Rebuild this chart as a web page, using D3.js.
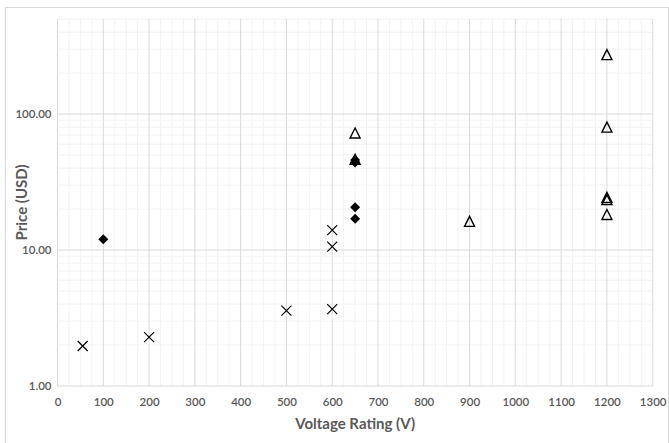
<!DOCTYPE html>
<html><head><meta charset="utf-8">
<script src="https://cdn.jsdelivr.net/npm/d3@7"></script>
<style>body{margin:0;background:#fff}svg{display:block}text{font-family:Lato,"Open Sans",sans-serif}</style>
</head><body><svg id="c" width="669" height="443"></svg>
<script>
const xTicks = [0,100,200,300,400,500,600,700,800,900,1000,1100,1200,1300];
const yTicks = [1,10,100];
const crossX = [55,200,500,600,600,600];
const crossY = [1.97,2.29,3.58,3.68,10.6,14.0];
const diamondX = [100,650,650,650,650];
const diamondY = [12.0,17.0,20.6,44.0,46.0];
const triX = [650,650,900,1200,1200,1200,1200,1200];
const triY = [46.0,72.0,16.1,271,79.5,24.2,23.3,18.1];

const svg = d3.select("#c");
const W=669,H=443;
const L=57.5,R=652.7,T=19,B=386;
svg.append("rect").attr("x",5.5).attr("y",7.5).attr("width",W-6).attr("height",H).attr("fill","#fff").attr("stroke","#d9d9d9").attr("stroke-width",1);
const x=d3.scaleLinear().domain([0,1300]).range([L,R]);
const y=d3.scaleLog().domain([1,500]).range([B,T]);
const g=svg.append("g");
d3.range(0,1301,25).filter(v=>v%100!==0).forEach(v=>{
  g.append("line").attr("x1",x(v)).attr("x2",x(v)).attr("y1",T).attr("y2",B).attr("stroke","#f2f2f2").attr("stroke-width",1);
});
const minorY=[];
[1,10,100].forEach(d=>{for(let k=2;k<=9;k++){const v=d*k; if(v<=500) minorY.push(v);}});
minorY.forEach(v=>{
  g.append("line").attr("x1",L).attr("x2",R).attr("y1",y(v)).attr("y2",y(v)).attr("stroke","#f2f2f2").attr("stroke-width",1);
});
xTicks.forEach(v=>{
  g.append("line").attr("x1",x(v)).attr("x2",x(v)).attr("y1",T).attr("y2",B).attr("stroke","#d9d9d9").attr("stroke-width",1);
});
yTicks.forEach(v=>{
  g.append("line").attr("x1",L).attr("x2",R).attr("y1",y(v)).attr("y2",y(v)).attr("stroke","#d9d9d9").attr("stroke-width",1);
});
const xAxis=d3.axisBottom(x).tickValues(xTicks).tickSize(0).tickPadding(12).tickFormat(d3.format("d"));
const xa=svg.append("g").attr("transform",`translate(0,${B})`).call(xAxis);
xa.select(".domain").remove();
xa.selectAll("text").attr("fill","#595959").style("font-size","11.5px").style("font-family","Lato").style("font-weight","600");
const yAxis=d3.axisLeft(y).tickValues(yTicks).tickSize(0).tickPadding(6).tickFormat(d3.format(".2f"));
const ya=svg.append("g").attr("transform",`translate(${L},0)`).call(yAxis);
ya.select(".domain").remove();
ya.selectAll("text").attr("fill","#595959").style("font-size","11.5px").style("font-family","Lato").style("font-weight","600");

svg.append("text").attr("x",(L+R)/2).attr("y",429).attr("text-anchor","middle").attr("fill","#595959").style("font-size","15px").style("font-weight","bold").text("Voltage Rating (V)");
svg.append("text").attr("transform",`translate(27,${(T+B)/2}) rotate(-90)`).attr("text-anchor","middle").attr("fill","#595959").style("font-size","15px").style("font-weight","bold").text("Price (USD)");

const m=svg.append("g");
diamondX.forEach((vx,i)=>{
  const cx=x(vx),cy=y(diamondY[i]);
  m.append("path").attr("d",`M${cx},${cy-5}L${cx+5},${cy}L${cx},${cy+5}L${cx-5},${cy}Z`).attr("fill","#000");
});
crossX.forEach((vx,i)=>{
  const cx=x(vx),cy=y(crossY[i]),s=5;
  m.append("path").attr("d",`M${cx-s},${cy-s}L${cx+s},${cy+s}M${cx-s},${cy+s}L${cx+s},${cy-s}`).attr("stroke","#000").attr("stroke-width",1.2).attr("fill","none");
});
triX.forEach((vx,i)=>{
  const cx=x(vx),cy=y(triY[i]);
  m.append("path").attr("d",`M${cx},${cy-5.5}L${cx+5},${cy+4.5}L${cx-5},${cy+4.5}Z`).attr("stroke","#000").attr("stroke-width",1.4).attr("fill","none").attr("stroke-linejoin","miter");
});
</script></body></html>
